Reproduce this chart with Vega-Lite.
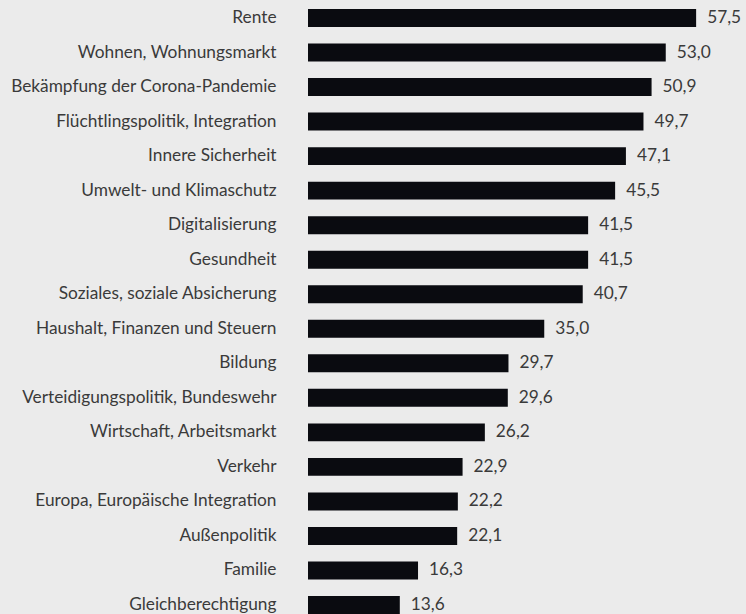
{
  "$schema": "https://vega.github.io/schema/vega-lite/v6.json",
  "width": 405,
  "height": 605,
  "autosize": "none",
  "padding": {"left": 308, "top": 9, "right": 33, "bottom": 0},
  "background": "#ebebeb",
  "config": {"view": {"stroke": null}, "font": "Lato"},
  "data": {"values": [
    {"thema": "Rente", "wert": 57.5},
    {"thema": "Wohnen, Wohnungsmarkt", "wert": 53.0},
    {"thema": "Bekämpfung der Corona-Pandemie", "wert": 50.9},
    {"thema": "Flüchtlingspolitik, Integration", "wert": 49.7},
    {"thema": "Innere Sicherheit", "wert": 47.1},
    {"thema": "Umwelt- und Klimaschutz", "wert": 45.5},
    {"thema": "Digitalisierung", "wert": 41.5},
    {"thema": "Gesundheit", "wert": 41.5},
    {"thema": "Soziales, soziale Absicherung", "wert": 40.7},
    {"thema": "Haushalt, Finanzen und Steuern", "wert": 35.0},
    {"thema": "Bildung", "wert": 29.7},
    {"thema": "Verteidigungspolitik, Bundeswehr", "wert": 29.6},
    {"thema": "Wirtschaft, Arbeitsmarkt", "wert": 26.2},
    {"thema": "Verkehr", "wert": 22.9},
    {"thema": "Europa, Europäische Integration", "wert": 22.2},
    {"thema": "Außenpolitik", "wert": 22.1},
    {"thema": "Familie", "wert": 16.3},
    {"thema": "Gleichberechtigung", "wert": 13.6}
  ]},
  "encoding": {
    "y": {
      "field": "thema", "type": "nominal", "sort": null,
      "scale": {"paddingInner": 0.48, "paddingOuter": 0},
      "axis": {"title": null, "domain": false, "ticks": false, "labelPadding": 32, "labelFontSize": 17.3, "labelColor": "#3a3a3a", "labelFont": "Lato", "labelFontWeight": "normal", "labelLimit": 400}
    },
    "x": {
      "field": "wert", "type": "quantitative",
      "scale": {"domain": [0, 60]},
      "axis": null
    }
  },
  "layer": [
    {"mark": {"type": "bar", "color": "#0a0b10"}},
    {
      "mark": {"type": "text", "align": "left", "baseline": "middle", "dx": 11, "fontSize": 17.3, "color": "#3a3a3a", "font": "Lato"},
      "encoding": {"text": {"field": "wert", "type": "quantitative", "format": ".1f", "formatType": "number"}}
    }
  ],
  "usermeta": {"embedOptions": {"formatLocale": {"decimal": ",", "thousands": ".", "grouping": [3], "currency": ["", " €"]}}}
}
